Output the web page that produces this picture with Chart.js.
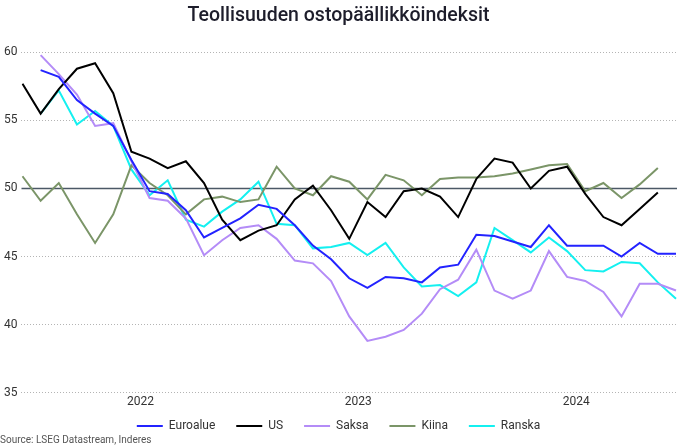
<!DOCTYPE html>
<html>
<head>
<meta charset="utf-8">
<script src="https://cdn.jsdelivr.net/npm/chart.js@4/dist/chart.umd.min.js"></script>
<style>
  html, body { margin: 0; padding: 0; background: #fff; }
  #wrap { width: 690px; height: 446px; }
</style>
</head>
<body>
<div id="wrap"><canvas id="pmi"></canvas></div>
<script>
// ── Data (monthly, Dec 2021 – Dec 2024) ─────────────────────────────────────────
const months = [
  '2021-12',
  '2022-01','2022-02','2022-03','2022-04','2022-05','2022-06','2022-07','2022-08','2022-09','2022-10','2022-11','2022-12',
  '2023-01','2023-02','2023-03','2023-04','2023-05','2023-06','2023-07','2023-08','2023-09','2023-10','2023-11','2023-12',
  '2024-01','2024-02','2024-03','2024-04','2024-05','2024-06','2024-07','2024-08','2024-09','2024-10','2024-11','2024-12'
];
const yearLabels = ['2022', '2023', '2024'];

const euroalue = [null,
  58.7, 58.2, 56.5, 55.5, 54.6, 52.1, 49.8, 49.6, 48.4, 46.4, 47.1, 47.8,
  48.8, 48.5, 47.3, 45.8, 44.8, 43.4, 42.7, 43.5, 43.4, 43.1, 44.2, 44.4,
  46.6, 46.5, 46.1, 45.7, 47.3, 45.8, 45.8, 45.8, 45.0, 46.0, 45.2, 45.2];
const us = [57.7,
  55.5, 57.3, 58.8, 59.2, 57.0, 52.7, 52.2, 51.5, 52.0, 50.4, 47.7, 46.2,
  46.9, 47.3, 49.2, 50.2, 48.4, 46.3, 49.0, 47.9, 49.8, 50.0, 49.4, 47.9,
  50.7, 52.2, 51.9, 50.0, 51.3, 51.6, 49.6, 47.9, 47.3, 48.5, 49.7, null];
const saksa = [null,
  59.8, 58.4, 56.9, 54.6, 54.8, 52.0, 49.3, 49.1, 47.8, 45.1, 46.2, 47.1,
  47.3, 46.3, 44.7, 44.5, 43.2, 40.6, 38.8, 39.1, 39.6, 40.8, 42.6, 43.3,
  45.5, 42.5, 41.9, 42.5, 45.4, 43.5, 43.2, 42.4, 40.6, 43.0, 43.0, 42.5];
const kiina = [50.9,
  49.1, 50.4, 48.1, 46.0, 48.1, 51.7, 50.4, 49.5, 48.1, 49.2, 49.4, 49.0,
  49.2, 51.6, 50.0, 49.5, 50.9, 50.5, 49.2, 51.0, 50.6, 49.5, 50.7, 50.8,
  50.8, 50.9, 51.1, 51.4, 51.7, 51.8, 49.8, 50.4, 49.3, 50.3, 51.5, null];
const ranska = [null,
  55.5, 57.2, 54.7, 55.7, 54.6, 51.4, 49.5, 50.6, 47.7, 47.2, 48.3, 49.2,
  50.5, 47.4, 47.3, 45.6, 45.7, 46.0, 45.1, 46.0, 44.2, 42.8, 42.9, 42.1,
  43.1, 47.1, 46.2, 45.3, 46.4, 45.4, 44.0, 43.9, 44.6, 44.5, 43.1, 41.9];

const yTicks = [35, 40, 45, 50, 55, 60];
const refLevel = 50;

// ── Helpers ─────────────────────────────────────────────────────────────────────
const FONT = 'Roboto, "Liberation Sans", sans-serif';
const toPoints = arr => arr.map((v, i) => ({ x: i, y: v }));
// year label sits in the middle of its twelve months
const yearPos = yearLabels.map(y => (months.indexOf(y + '-01') + months.indexOf(y + '-12')) / 2);

function series(label, values, color) {
  return {
    label, data: toPoints(values),
    borderColor: color, backgroundColor: color,
    borderWidth: 2, pointRadius: 0, tension: 0, fill: false,
  };
}

// solid line at the 50 level, under the series
const refLine = {
  id: 'refLine',
  beforeDatasetsDraw(chart) {
    const { ctx, chartArea: a, scales } = chart;
    const y = Math.round(scales.y.getPixelForValue(refLevel)) + 0.5;
    ctx.save();
    ctx.strokeStyle = '#4b5866';
    ctx.lineWidth = 1.3;
    ctx.beginPath(); ctx.moveTo(a.left, y); ctx.lineTo(a.right, y); ctx.stroke();
    ctx.restore();
  }
};

new Chart(document.getElementById('pmi').getContext('2d'), {
  type: 'line',
  data: {
    datasets: [
      series('Euroalue', euroalue, '#2323ff'),
      series('US',       us,       '#000000'),
      series('Saksa',    saksa,    '#b48cf7'),
      series('Kiina',    kiina,    '#7b9568'),
      series('Ranska',   ranska,   '#14f0f0'),
    ]
  },
  plugins: [refLine],
  options: {
    responsive: true,
    maintainAspectRatio: false,
    animation: false,
    devicePixelRatio: 1,
    layout: { padding: { left: 0, right: 13, top: 0, bottom: 0 } },
    plugins: {
      title: {
        display: true, text: 'Teollisuuden ostopäällikköindeksit',
        color: '#1d1d2b', font: { family: FONT, size: 19.5, weight: '500' },
        padding: { top: 4, bottom: 25 }
      },
      legend: {
        position: 'bottom',
        labels: {
          boxWidth: 26, boxHeight: 2, padding: 9, color: '#333',
          font: { family: FONT, size: 12 },
          generateLabels: chart => {
            const items = Chart.defaults.plugins.legend.labels.generateLabels(chart);
            return items.map((it, i) => ({
              ...it, lineWidth: 0,
              text: i < items.length - 1 ? it.text + '    ' : it.text
            }));
          }
        }
      },
      subtitle: {
        display: true, position: 'bottom', align: 'start',
        text: 'Source: LSEG Datastream, Inderes',
        color: '#555', font: { family: FONT, size: 10, lineHeight: 1.1 },
        padding: { top: -7, bottom: 0 }
      },
      tooltip: { enabled: false }
    },
    scales: {
      x: {
        type: 'linear',
        min: -0.055, max: months.length - 1 + 0.055,
        afterBuildTicks: axis => { axis.ticks = yearPos.map(v => ({ value: v })); },
        ticks: {
          autoSkip: false, maxRotation: 0, padding: 2, color: '#333',
          font: { family: FONT, size: 12 },
          callback: (v, i) => yearLabels[i]
        },
        grid: { display: false, drawTicks: false },
        border: { display: false }
      },
      y: {
        min: 35, max: 60,
        afterBuildTicks: axis => { axis.ticks = yTicks.map(v => ({ value: v })); },
        ticks: { padding: 4, color: '#333', font: { family: FONT, size: 12 } },
        grid: {
          drawTicks: false,
          color: c => c.tick && c.tick.value === refLevel ? 'rgba(0,0,0,0)' : '#b4b4b4',
          lineWidth: 1
        },
        border: { display: false, dash: [1, 2] }
      }
    }
  }
});
</script>
</body>
</html>
